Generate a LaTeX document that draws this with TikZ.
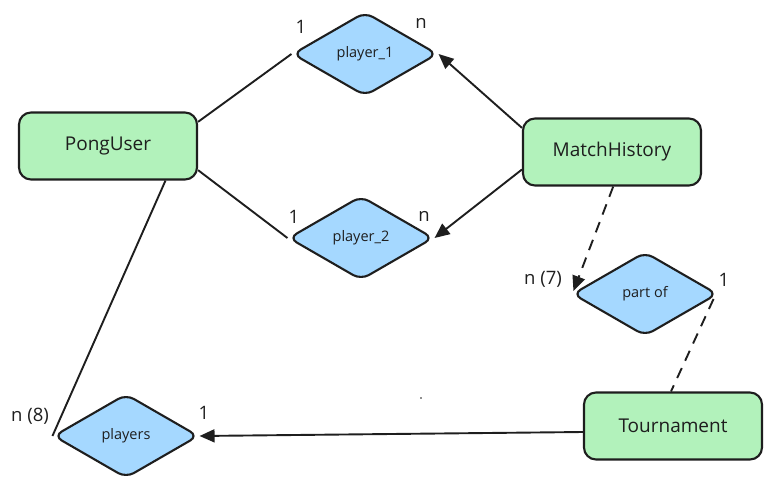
\documentclass[tikz,border=0pt]{standalone}
\usepackage{fontspec}
\setmainfont{Open Sans}
\usetikzlibrary{shapes.geometric,arrows.meta,calc}
\definecolor{ink}{HTML}{1E1E1E}
\definecolor{entfill}{HTML}{B2F2BB}
\definecolor{relfill}{HTML}{A5D8FF}
\tikzset{
  entity/.style={draw=ink, line width=2.1pt, fill=entfill, rounded corners=12pt,
    minimum width=178pt, minimum height=67pt, inner sep=0pt, font=\fontsize{19}{21}\selectfont, text=ink},
  rel/.style={draw=ink, line width=2.1pt, fill=relfill, diamond, rounded corners=9pt,
    minimum width=145pt, minimum height=84pt, inner sep=0pt, font=\fontsize{14.5}{16}\selectfont, text=ink},
  conn/.style={draw=ink, line width=1.9pt},
  arr/.style={conn, -{Triangle[length=15pt,width=13pt]}},
  dsh/.style={dash pattern=on 11pt off 8pt},
  card/.style={font=\fontsize{18.5}{20}\selectfont, text=ink, inner sep=0pt}
}
\begin{document}
\begin{tikzpicture}[x=1pt,y=-1pt]
\useasboundingbox (0,0) rectangle (772,490);
\node[entity] (pu) at (108,146) {PongUser};
\node[entity] (mh) at (612,152) {MatchHistory};
\node[entity] (tn) at (673,426) {Tournament};
\node[rel] (p1) at (365,54) {player\_1};
\node[rel] (p2) at (361,238) {player\_2};
\node[rel] (po) at (645,294) {part of};
\node[rel] (pl) at (126,436) {players};

\draw[conn] (pu.15) -- (p1.west);
\draw[arr] (mh.165) -- (p1.east);
\draw[conn] (pu.-15) -- (p2.west);
\draw[arr] (mh.191) -- (p2.east);
\draw[arr,dsh] (mh.-88) -- ($(po.west)+(2,-3)$);
\draw[conn,dsh] ($(po.east)+(-5,5)$) -- ($(tn.north)+(-2,0)$);
\draw[conn] (pu.-31) -- (pl.west);
\draw[arr] ($(tn.west)+(0,6)$) -- (pl.east);

\node[card] (c1) at (301,27) {1};
\node[card] (c2) at (421,23) {n};
\node[card] (c3) at (294,217) {1};
\node[card] (c4) at (424,216) {n};
\node[card] (c5) at (543,279) {n (7)};
\node[card] (c6) at (724,280) {1};
\node[card] (c7) at (30,416) {n (8)};
\node[card] (c8) at (204,413) {1};
\fill[ink] (421,398) circle (0.8pt);
\end{tikzpicture}
\end{document}
